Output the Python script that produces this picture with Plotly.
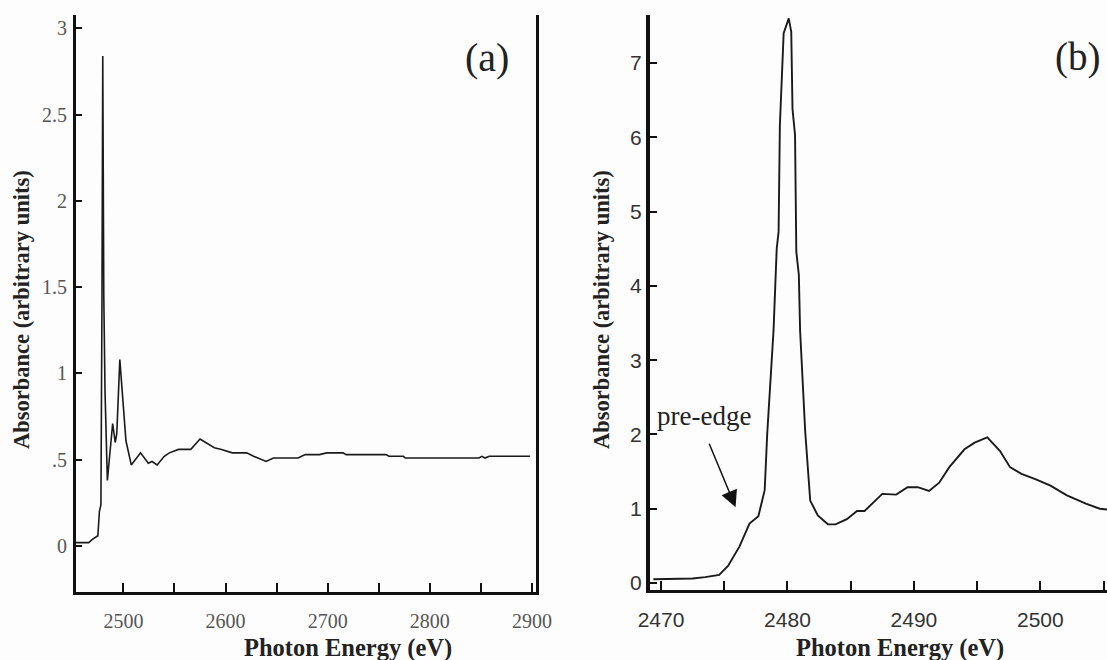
import plotly.graph_objects as go

# Panel (a): full S K-edge spectrum
energy_a = [2452, 2466, 2470, 2475, 2476.5, 2478, 2479, 2479.8, 2480.8, 2482,
            2484.3, 2488.5, 2489.5, 2492, 2493.5, 2496.5, 2500, 2502.5, 2507.7,
            2516.8, 2524.4, 2528, 2533, 2540, 2545, 2554, 2566, 2575, 2589,
            2596, 2606.6, 2620.6, 2627.5, 2639.7, 2646.8, 2671, 2678, 2692,
            2699, 2715, 2718, 2757, 2760, 2774, 2776, 2848, 2851, 2854, 2858, 2898]
absorb_a = [0.02, 0.02, 0.04, 0.06, 0.20, 0.24, 1.40, 2.84, 1.45, 0.90,
            0.38, 0.69, 0.71, 0.60, 0.65, 1.08, 0.79, 0.61, 0.47,
            0.54, 0.48, 0.49, 0.47, 0.52, 0.54, 0.56, 0.56, 0.62, 0.57,
            0.56, 0.54, 0.54, 0.52, 0.49, 0.51, 0.51, 0.53, 0.53,
            0.54, 0.54, 0.53, 0.53, 0.52, 0.52, 0.51, 0.51, 0.52, 0.51, 0.52, 0.52]

# Panel (b): XANES region
energy_b = [2469.4, 2471, 2472.5, 2473.5, 2474.6, 2475.3, 2476.2, 2477.0, 2477.7,
            2478.2, 2478.4, 2478.9, 2479.15, 2479.3, 2479.4, 2479.7, 2480.1, 2480.3,
            2480.4, 2480.6, 2480.7, 2480.9, 2481.0, 2481.4, 2481.8, 2482.4, 2483.2,
            2483.8, 2484.7, 2485.5, 2486.1, 2487.5, 2488.6, 2489.5, 2490.3, 2491.2,
            2492.0, 2492.8, 2494.0, 2494.8, 2495.8, 2496.8, 2497.6, 2498.5, 2499.6,
            2500.8, 2502.1, 2503.6, 2504.7, 2505.8]
absorb_b = [0.05, 0.05, 0.06, 0.08, 0.11, 0.23, 0.49, 0.80, 0.90, 1.25, 2.01,
            3.40, 4.50, 4.73, 6.16, 7.40, 7.60, 7.42, 6.38, 6.03, 4.46, 4.15,
            3.40, 2.05, 1.11, 0.91, 0.79, 0.79, 0.86, 0.97, 0.97, 1.20, 1.19,
            1.29, 1.29, 1.24, 1.35, 1.56, 1.80, 1.89, 1.96, 1.78, 1.56, 1.47,
            1.40, 1.31, 1.18, 1.07, 1.00, 0.98]

# Tick positions and labels
xticks_a = [2500, 2550, 2600, 2650, 2700, 2750, 2800, 2850, 2900]
xlabels_a = ["2500", "", "2600", "", "2700", "", "2800", "", "2900"]
yticks_a = [0, 0.5, 1, 1.5, 2, 2.5, 3]
ylabels_a = ["0", ".5", "1", "1.5", "2", "2.5", "3"]
xticks_b = [2470, 2475, 2480, 2485, 2490, 2495, 2500, 2505]
xlabels_b = ["2470", "", "2480", "", "2490", "", "2500", ""]
yticks_b = [0, 1, 2, 3, 4, 5, 6, 7]
ylabels_b = ["0", "1", "2", "3", "4", "5", "6", "7"]

W, H = 1107, 660
SERIF = "Liberation Serif"
SANS = "Liberation Sans"
INK = "#1a1a1a"

fig = go.Figure()
fig.add_trace(go.Scatter(x=energy_a, y=absorb_a, mode="lines",
                         line=dict(color=INK, width=1.6), xaxis="x", yaxis="y",
                         showlegend=False, hoverinfo="skip"))
fig.add_trace(go.Scatter(x=energy_b, y=absorb_b, mode="lines",
                         line=dict(color=INK, width=1.9), xaxis="x2", yaxis="y2",
                         showlegend=False, hoverinfo="skip"))

ax_common = dict(showgrid=False, zeroline=False, showline=True, linecolor="#111",
                 ticks="inside", tickcolor="#111", fixedrange=True,
                 automargin=False)

fig.update_layout(
    width=W, height=H, autosize=False, showlegend=False,
    margin=dict(l=0, r=0, t=0, b=0, pad=0, autoexpand=False),
    paper_bgcolor="#fdfdfd", plot_bgcolor="#fdfdfd",
    xaxis=dict(**ax_common, domain=[76 / W, 536 / W], anchor="y",
               range=[2453.6, 2903.9], tickmode="array", tickvals=xticks_a,
               ticktext=xlabels_a, linewidth=3, ticklen=9, tickwidth=2,
               tickfont=dict(family=SERIF, size=20, color="#555"),
               ticklabelstandoff=9),
    yaxis=dict(**ax_common, domain=[1 - 592.3 / H, 1 - 15 / H], anchor="x",
               range=[-0.268, 3.077], tickmode="array", tickvals=yticks_a,
               ticktext=ylabels_a, linewidth=3, ticklen=6, tickwidth=1.5,
               mirror=True,
               tickfont=dict(family=SERIF, size=20, color="#555"),
               ticklabelstandoff=2),
    xaxis2=dict(**ax_common, domain=[650 / W, 1.0], anchor="y2",
                range=[2469.13, 2505.27], tickmode="array", tickvals=xticks_b,
                ticktext=xlabels_b, linewidth=3, ticklen=9, tickwidth=2,
                tickfont=dict(family=SANS, size=21, color="#333"),
                ticklabelstandoff=9),
    yaxis2=dict(**ax_common, domain=[1 - 590 / H, 1 - 15 / H], anchor="x2",
                range=[-0.094, 7.646], tickmode="array", tickvals=yticks_b,
                ticktext=ylabels_b, linewidth=4, ticklen=7, tickwidth=1.5,
                tickfont=dict(family=SANS, size=21, color="#333"),
                ticklabelstandoff=0),
)


def label(text, x, y, size, family=SERIF, angle=0):
    return dict(text=text, x=x / W, y=1 - y / H, xref="paper", yref="paper",
                xanchor="center", yanchor="middle", showarrow=False,
                textangle=angle, font=dict(family=family, size=size, color="#222"))


annotations = [
    label("(a)", 487, 57, 40),
    label("(b)", 1077, 57, 39),
    label("<b>Photon Energy (eV)</b>", 348, 648, 24.5),
    label("<b>Photon Energy (eV)</b>", 900, 648, 24.5),
    label("<b>Absorbance (arbitrary units)</b>", 21, 310, 22.5, angle=-90),
    label("<b>Absorbance (arbitrary units)</b>", 601, 310, 22.5, angle=-90),
    dict(text="pre-edge", x=2473.4, y=2.25, xref="x2", yref="y2",
         xanchor="center", yanchor="middle", showarrow=False,
         font=dict(family=SERIF, size=27, color="#222")),
    dict(text="", x=2475.9, y=1.02, xref="x2", yref="y2", showarrow=True,
         ax=-27, ay=-65, arrowhead=2, arrowsize=2.2, arrowwidth=1.5,
         arrowcolor="#111"),
]
fig.update_layout(annotations=annotations)

fig.write_html("out.html")
